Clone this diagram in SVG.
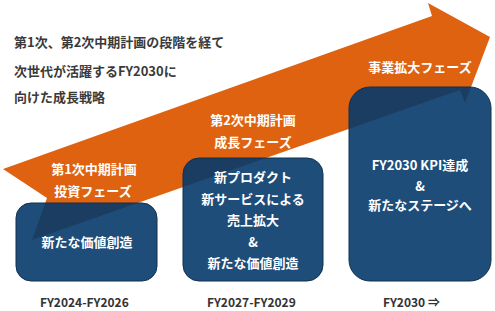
<svg xmlns="http://www.w3.org/2000/svg" width="495" height="311" viewBox="0 0 495 311">
<style>
text{font-family:"Noto Sans CJK JP","Noto Sans",sans-serif;font-weight:700}
.intro{font-size:13px;fill:#3a3a3a}
.w{font-size:13px;fill:#ffffff;text-anchor:middle}
.yr{font-size:12px;fill:#333333}
.box{fill:#063a6b;fill-opacity:0.9;stroke:#12304f;stroke-width:1}
</style>
<rect width="495" height="311" fill="#ffffff"/>
<g id="intro">
<text class="intro" x="14" y="47">第1次、第2次中期計画の段階を経て</text>
<text class="intro" x="14" y="76">次世代が活躍するFY2030に</text>
<text class="intro" x="14" y="102">向けた成長戦略</text>
</g>
<g id="arrow">
<path d="M3,169 L432,16 L428,3 L490,37 L465,103 L460,90 L32,240 L47,198 Z" fill="#df6210"/>
<text class="w" x="94" y="174">第1次中期計画</text>
<text class="w" x="93" y="196">投資フェーズ</text>
<text class="w" x="253" y="124.5">第2次中期計画</text>
<text class="w" x="253" y="147">成長フェーズ</text>
<text class="w" x="420" y="71.5">事業拡大フェーズ</text>
</g>
<g id="phase1">
<rect class="box" x="16" y="203" width="141" height="78" rx="15"/>
<text class="w" x="87" y="246.5">新たな価値創造</text>
<text class="yr" x="40" y="307">FY2024-FY2026</text>
</g>
<g id="phase2">
<rect class="box" x="183" y="158" width="140" height="123" rx="16"/>
<text class="w" x="253" y="182">新プロダクト</text>
<text class="w" x="253" y="203.5">新サービスによる</text>
<text class="w" x="253" y="225">売上拡大</text>
<text class="w" x="253" y="246.5">&amp;</text>
<text class="w" x="253" y="268">新たな価値創造</text>
<text class="yr" x="207" y="307">FY2027-FY2029</text>
</g>
<g id="phase3">
<rect class="box" x="349" y="87" width="142" height="194" rx="21"/>
<text class="w" x="420" y="170">FY2030 KPI達成</text>
<text class="w" x="420" y="190.5">&amp;</text>
<text class="w" x="420" y="210">新たなステージへ</text>
<text class="yr" x="383" y="307">FY2030 ⇒</text>
</g>
<g id="connectors"></g>
</svg>
